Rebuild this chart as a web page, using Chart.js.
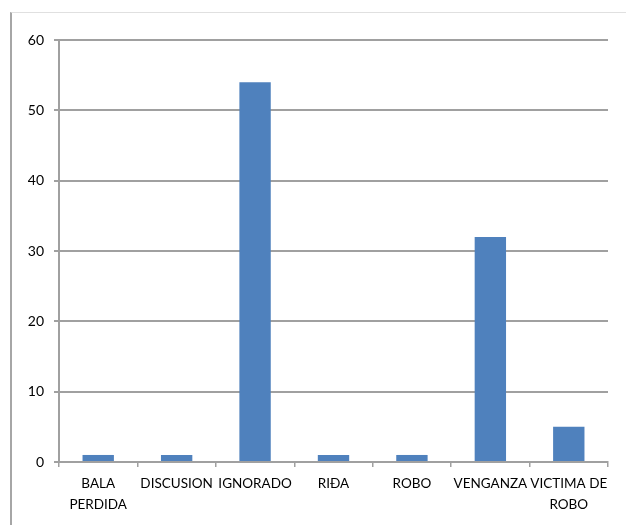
<!DOCTYPE html>
<html lang="es">
<head>
<meta charset="UTF-8">
<script src="https://cdn.jsdelivr.net/npm/chart.js@4.4.1/dist/chart.umd.min.js"></script>
<style>
  html, body { margin: 0; padding: 0; background: #fff; }
  body { width: 626px; height: 525px; position: relative; overflow: hidden; }
  .frame { position: absolute; left: 10px; top: 12px; width: 616px; height: 513px;
           border-left: 2px solid #a6a6a6; border-top: 1px solid #e0e0e0; box-sizing: border-box; }
  .frame canvas { position: absolute; left: 0; top: 0; }
</style>
</head>
<body>
<div class="frame"><canvas id="chart" width="614" height="512"></canvas></div>
<script>
// categories and values
const categories = [["BALA", "PERDIDA"], "DISCUSION", "IGNORADO", "RIĐA", "ROBO", "VENGANZA", ["VICTIMA DE", "ROBO"]];
const counts = [1, 1, 54, 1, 1, 32, 5];
const yTicks = [0, 10, 20, 30, 40, 50, 60];

const gridGray = '#a0a0a0';
const fontFamily = 'Lato, "Open Sans", sans-serif';

new Chart(document.getElementById('chart'), {
  type: 'bar',
  data: {
    labels: categories,
    datasets: [{
      data: counts,
      backgroundColor: '#4f81bd',
      barPercentage: 0.4,
      categoryPercentage: 1,
    }]
  },
  options: {
    responsive: false,
    animation: false,
    layout: { padding: { top: 27, right: 18, left: 0, bottom: 0 } },
    plugins: { legend: { display: false }, tooltip: { enabled: false } },
    scales: {
      x: {
        grid: { drawOnChartArea: false, drawTicks: true, tickLength: 5, color: gridGray, lineWidth: 1.5 },
        border: { color: gridGray, width: 2 },
        ticks: { color: '#000', font: { family: fontFamily, size: 13.5, lineHeight: 1.5 }, padding: 7, maxRotation: 0, autoSkip: false },
        afterFit: s => { s.height = 63; }
      },
      y: {
        min: 0, max: 60,
        afterBuildTicks: s => { s.ticks = yTicks.map(v => ({ value: v })); },
        grid: { color: gridGray, lineWidth: 2, tickLength: 5 },
        border: { color: gridGray, width: 2 },
        ticks: { color: '#000', font: { family: fontFamily, size: 14 }, padding: 10 },
        afterFit: s => { s.width = 47; }
      }
    }
  }
});
</script>
</body>
</html>
